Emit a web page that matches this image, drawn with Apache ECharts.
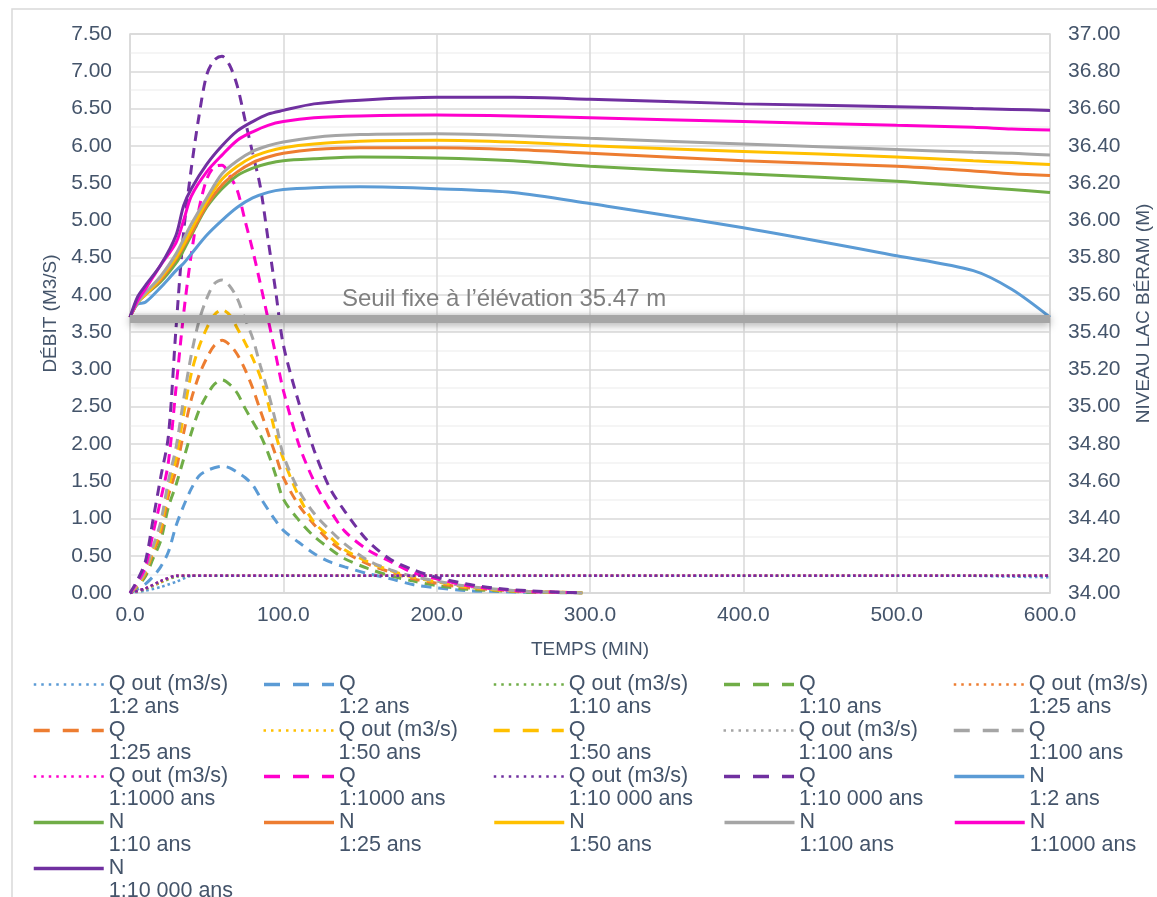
<!DOCTYPE html>
<html>
<head>
<meta charset="utf-8">
<script src="https://cdn.jsdelivr.net/npm/echarts@6/dist/echarts.min.js"></script>
<style>
  html, body { margin: 0; padding: 0; background: #fff; }
  #chart { width: 1157px; height: 897px; }
</style>
</head>
<body>
<div id="chart"></div>
<script>
// periodes de retour
const periodes = ['1:2 ans', '1:10 ans', '1:25 ans', '1:50 ans', '1:100 ans', '1:1000 ans', '1:10 000 ans'];
const couleurs = ['#5B9BD5', '#70AD47', '#ED7D31', '#FFC000', '#A5A5A5', '#FF00CC', '#7030A0'];

// temps (min) des hydrogrammes Q
const tQ = [0, 5, 10, 15, 20, 25, 30, 35, 40, 45, 50, 55, 60, 65, 70, 75, 80, 85, 90, 95, 100, 110, 120, 130, 140, 155, 170, 185, 200, 220, 240, 260, 280, 295];
const q2 = [0, 0.05, 0.12, 0.22, 0.35, 0.55, 0.90, 1.17, 1.40, 1.57, 1.64, 1.68, 1.70, 1.68, 1.62, 1.55, 1.45, 1.28, 1.12, 0.97, 0.84, 0.68, 0.53, 0.42, 0.35, 0.26, 0.19, 0.11, 0.07, 0.03, 0.02, 0.01, 0.005, 0];
const q10 = [0, 0.09, 0.22, 0.46, 0.70, 1.15, 1.45, 1.80, 2.15, 2.45, 2.65, 2.80, 2.86, 2.80, 2.68, 2.48, 2.30, 2.12, 1.88, 1.58, 1.26, 0.98, 0.76, 0.60, 0.46, 0.33, 0.23, 0.16, 0.10, 0.05, 0.03, 0.01, 0.005, 0];
const q25 = [0, 0.10, 0.26, 0.54, 0.80, 1.30, 1.65, 2.15, 2.60, 2.92, 3.15, 3.32, 3.39, 3.33, 3.20, 3.00, 2.75, 2.45, 2.15, 1.85, 1.55, 1.18, 0.92, 0.70, 0.55, 0.39, 0.28, 0.19, 0.13, 0.07, 0.04, 0.02, 0.01, 0];
const q50 = [0, 0.11, 0.28, 0.58, 0.88, 1.40, 1.80, 2.40, 2.95, 3.30, 3.55, 3.73, 3.80, 3.73, 3.55, 3.36, 3.15, 2.90, 2.55, 2.13, 1.80, 1.30, 0.95, 0.76, 0.58, 0.42, 0.30, 0.21, 0.15, 0.08, 0.04, 0.02, 0.01, 0];
const q100 = [0, 0.12, 0.30, 0.62, 0.95, 1.50, 1.95, 2.60, 3.20, 3.65, 3.95, 4.15, 4.20, 4.12, 3.95, 3.68, 3.42, 3.05, 2.70, 2.30, 1.85, 1.38, 1.07, 0.85, 0.66, 0.44, 0.31, 0.22, 0.16, 0.09, 0.05, 0.02, 0.01, 0];
const q1000 = [0, 0.15, 0.35, 0.80, 1.25, 1.75, 2.75, 3.75, 4.55, 5.15, 5.55, 5.72, 5.74, 5.60, 5.40, 5.00, 4.60, 4.15, 3.68, 3.20, 2.72, 2.00, 1.50, 1.13, 0.83, 0.58, 0.42, 0.27, 0.19, 0.10, 0.05, 0.02, 0.01, 0];
const q10000 = [0, 0.18, 0.42, 0.98, 1.55, 2.10, 3.55, 4.85, 5.70, 6.40, 6.95, 7.15, 7.20, 7.08, 6.80, 6.35, 5.90, 5.45, 4.75, 4.05, 3.33, 2.56, 1.92, 1.42, 1.10, 0.70, 0.45, 0.31, 0.21, 0.12, 0.06, 0.03, 0.01, 0];

// Q out (m3/s)
const tOut = [0, 10, 20, 30, 40, 50, 100, 200, 300, 400, 500, 550, 575, 600];
const qout2 = [0, 0.03, 0.08, 0.15, 0.23, 0.23, 0.23, 0.23, 0.23, 0.23, 0.23, 0.23, 0.22, 0.21];
const qout10 = [0, 0.05, 0.14, 0.22, 0.23, 0.23, 0.23, 0.23, 0.23, 0.23, 0.23, 0.23, 0.23, 0.23];
const qout25 = [0, 0.06, 0.15, 0.23, 0.23, 0.23, 0.23, 0.23, 0.23, 0.23, 0.23, 0.23, 0.23, 0.23];
const qout50 = [0, 0.06, 0.15, 0.23, 0.23, 0.23, 0.23, 0.23, 0.23, 0.23, 0.23, 0.23, 0.23, 0.23];
const qout100 = [0, 0.06, 0.16, 0.23, 0.23, 0.23, 0.23, 0.23, 0.23, 0.23, 0.23, 0.23, 0.23, 0.23];
const qout1000 = [0, 0.06, 0.16, 0.23, 0.23, 0.23, 0.23, 0.23, 0.23, 0.23, 0.23, 0.23, 0.23, 0.23];
const qout10000 = [0, 0.06, 0.16, 0.23, 0.23, 0.23, 0.23, 0.23, 0.23, 0.23, 0.23, 0.23, 0.23, 0.23];

// N niveau du lac (m)
const tN = [0, 5, 10, 20, 30, 35, 40, 50, 60, 70, 80, 90, 100, 120, 150, 200, 250, 300, 400, 500, 550, 575, 600];
const n2 = [35.48, 35.55, 35.56, 35.64, 35.73, 35.77, 35.82, 35.92, 36.00, 36.07, 36.12, 36.15, 36.165, 36.175, 36.18, 36.17, 36.15, 36.09, 35.96, 35.81, 35.73, 35.63, 35.48];
const n10 = [35.48, 35.56, 35.60, 35.67, 35.77, 35.84, 35.92, 36.07, 36.17, 36.24, 36.28, 36.305, 36.32, 36.33, 36.34, 36.335, 36.32, 36.29, 36.25, 36.21, 36.18, 36.165, 36.15];
const n25 = [35.48, 35.56, 35.60, 35.68, 35.79, 35.86, 35.93, 36.08, 36.19, 36.26, 36.31, 36.34, 36.36, 36.38, 36.39, 36.39, 36.38, 36.36, 36.32, 36.29, 36.265, 36.25, 36.24];
const n50 = [35.48, 35.56, 35.60, 35.69, 35.80, 35.87, 35.95, 36.10, 36.22, 36.29, 36.34, 36.37, 36.39, 36.41, 36.425, 36.43, 36.42, 36.40, 36.37, 36.34, 36.32, 36.31, 36.30];
const n100 = [35.48, 35.56, 35.61, 35.70, 35.82, 35.90, 35.98, 36.12, 36.25, 36.32, 36.37, 36.40, 36.42, 36.445, 36.46, 36.465, 36.455, 36.44, 36.41, 36.38, 36.365, 36.36, 36.35];
const n1000 = [35.48, 35.57, 35.63, 35.76, 35.88, 36.00, 36.13, 36.26, 36.35, 36.43, 36.475, 36.51, 36.53, 36.55, 36.56, 36.565, 36.56, 36.55, 36.53, 36.51, 36.50, 36.49, 36.485];
const n10000 = [35.48, 35.59, 35.65, 35.76, 35.92, 36.08, 36.17, 36.30, 36.40, 36.48, 36.53, 36.57, 36.59, 36.625, 36.645, 36.66, 36.66, 36.65, 36.625, 36.61, 36.60, 36.595, 36.59];

const seuil = 35.47;

const qSeries = [q2, q10, q25, q50, q100, q1000, q10000];
const qoutSeries = [qout2, qout10, qout25, qout50, qout100, qout1000, qout10000];
const nSeries = [n2, n10, n25, n50, n100, n1000, n10000];

const pairs = (ts, vs) => ts.map((t, i) => [t, vs[i]]);
const txt = '#44546A';
const fnt = '"Liberation Sans", Arial, sans-serif';

// styles des icones de legende (plus longs que dans le graphe)
const iconDot = { type: [2.5, 5], width: 2.5 };
const iconDash = { type: [16, 13], width: 3.5 };
const iconLine = { type: 'solid', width: 3.5 };

var series = [];
var legendItems = [];
periodes.forEach((p, i) => {
  series.push({
    name: 'Q out (m3/s)\n' + p, type: 'line', yAxisIndex: 0, symbol: 'none', smooth: 0.2,
    color: couleurs[i],
    lineStyle: { color: couleurs[i], width: 2.5, type: [2.5, 3] },
    data: pairs(tOut, qoutSeries[i])
  });
  legendItems.push({ name: 'Q out (m3/s)\n' + p, lineStyle: iconDot });
  series.push({
    name: 'Q\n' + p, type: 'line', yAxisIndex: 0, symbol: 'none', smooth: 0.3,
    color: couleurs[i],
    lineStyle: { color: couleurs[i], width: 3, type: [10, 7] },
    data: pairs(tQ, qSeries[i])
  });
  legendItems.push({ name: 'Q\n' + p, lineStyle: iconDash });
});
periodes.forEach((p, i) => {
  var s = {
    name: 'N\n' + p, type: 'line', yAxisIndex: 1, symbol: 'none', smooth: 0.3,
    color: couleurs[i],
    lineStyle: { color: couleurs[i], width: 3 },
    data: pairs(tN, nSeries[i])
  };
  if (i === 0) {
    s.markLine = {
      silent: true,
      symbol: 'none',
      lineStyle: { color: '#A6A6A6', width: 8, type: 'solid', shadowBlur: 8, shadowColor: 'rgba(0,0,0,0.35)', shadowOffsetY: 2 },
      label: {
        show: true, position: 'insideStartTop', distance: [212, 8],
        formatter: 'Seuil fixe à l’élévation 35.47 m', color: '#7F7F7F', fontSize: 24, fontFamily: fnt
      },
      data: [{ yAxis: seuil }]
    };
  }
  series.push(s);
  legendItems.push({ name: 'N\n' + p, lineStyle: iconLine });
});

// legende : 5 par ligne
var legendData = [];
legendItems.forEach((it, i) => {
  legendData.push(it);
  if (i % 5 === 4) legendData.push('\n');
});

const chart = echarts.init(document.getElementById('chart'));
chart.setOption({
  animation: false,
  textStyle: { fontFamily: fnt },
  graphic: [{
    type: 'rect', silent: true,
    shape: { x: 12, y: 9, width: 1160, height: 900 },
    style: { fill: 'none', stroke: '#D9D9D9', lineWidth: 1.5 }
  }],
  grid: {
    left: 130, right: 107, top: 34, bottom: 304,
    show: true, borderColor: '#D9D9D9', borderWidth: 1.5,
    outerBoundsMode: 'none'
  },
  legend: {
    data: legendData,
    left: 32, top: 650, width: 1250, padding: 0,
    itemGap: -23, itemWidth: 70, itemHeight: 14,
    // ligne vide en tete : la 1re ligne du nom se centre sur l'icone
    formatter: name => '\n' + name,
    itemStyle: { opacity: 0 },
    textStyle: { color: txt, fontSize: 21.5, lineHeight: 23, width: 176.5, fontFamily: fnt }
  },
  xAxis: {
    type: 'value', min: 0, max: 600, interval: 100,
    name: 'TEMPS (MIN)', nameLocation: 'middle', nameGap: 47,
    nameTextStyle: { color: txt, fontSize: 19 },
    axisLine: { show: true, lineStyle: { color: '#D9D9D9', width: 1.5 } },
    axisTick: { show: false },
    axisLabel: { color: txt, fontSize: 21, margin: 12, formatter: v => v.toFixed(1) },
    splitLine: { show: true, lineStyle: { color: '#D9D9D9', width: 1.5 } }
  },
  yAxis: [{
    type: 'value', min: 0, max: 7.5, interval: 0.5,
    name: 'DÉBIT (M3/S)', nameLocation: 'middle', nameGap: 68, nameRotate: 90,
    nameTextStyle: { color: txt, fontSize: 19 },
    axisLine: { show: false }, axisTick: { show: false },
    axisLabel: { color: txt, fontSize: 21, margin: 18, formatter: v => v.toFixed(2) },
    splitLine: { show: true, lineStyle: { color: '#D9D9D9', width: 1.5 } },
    minorTick: { show: false, splitNumber: 2 },
    minorSplitLine: { show: true, lineStyle: { color: '#F2F2F2', width: 1.5 } }
  }, {
    type: 'value', min: 34, max: 37, interval: 0.2, position: 'right',
    name: 'NIVEAU LAC BÉRAM (M)', nameLocation: 'middle', nameGap: 84, nameRotate: 90,
    nameTextStyle: { color: txt, fontSize: 19 },
    axisLine: { show: false }, axisTick: { show: false },
    axisLabel: { color: txt, fontSize: 21, margin: 18, formatter: v => v.toFixed(2) },
    splitLine: { show: false }
  }],
  series: series
});
</script>
</body>
</html>
